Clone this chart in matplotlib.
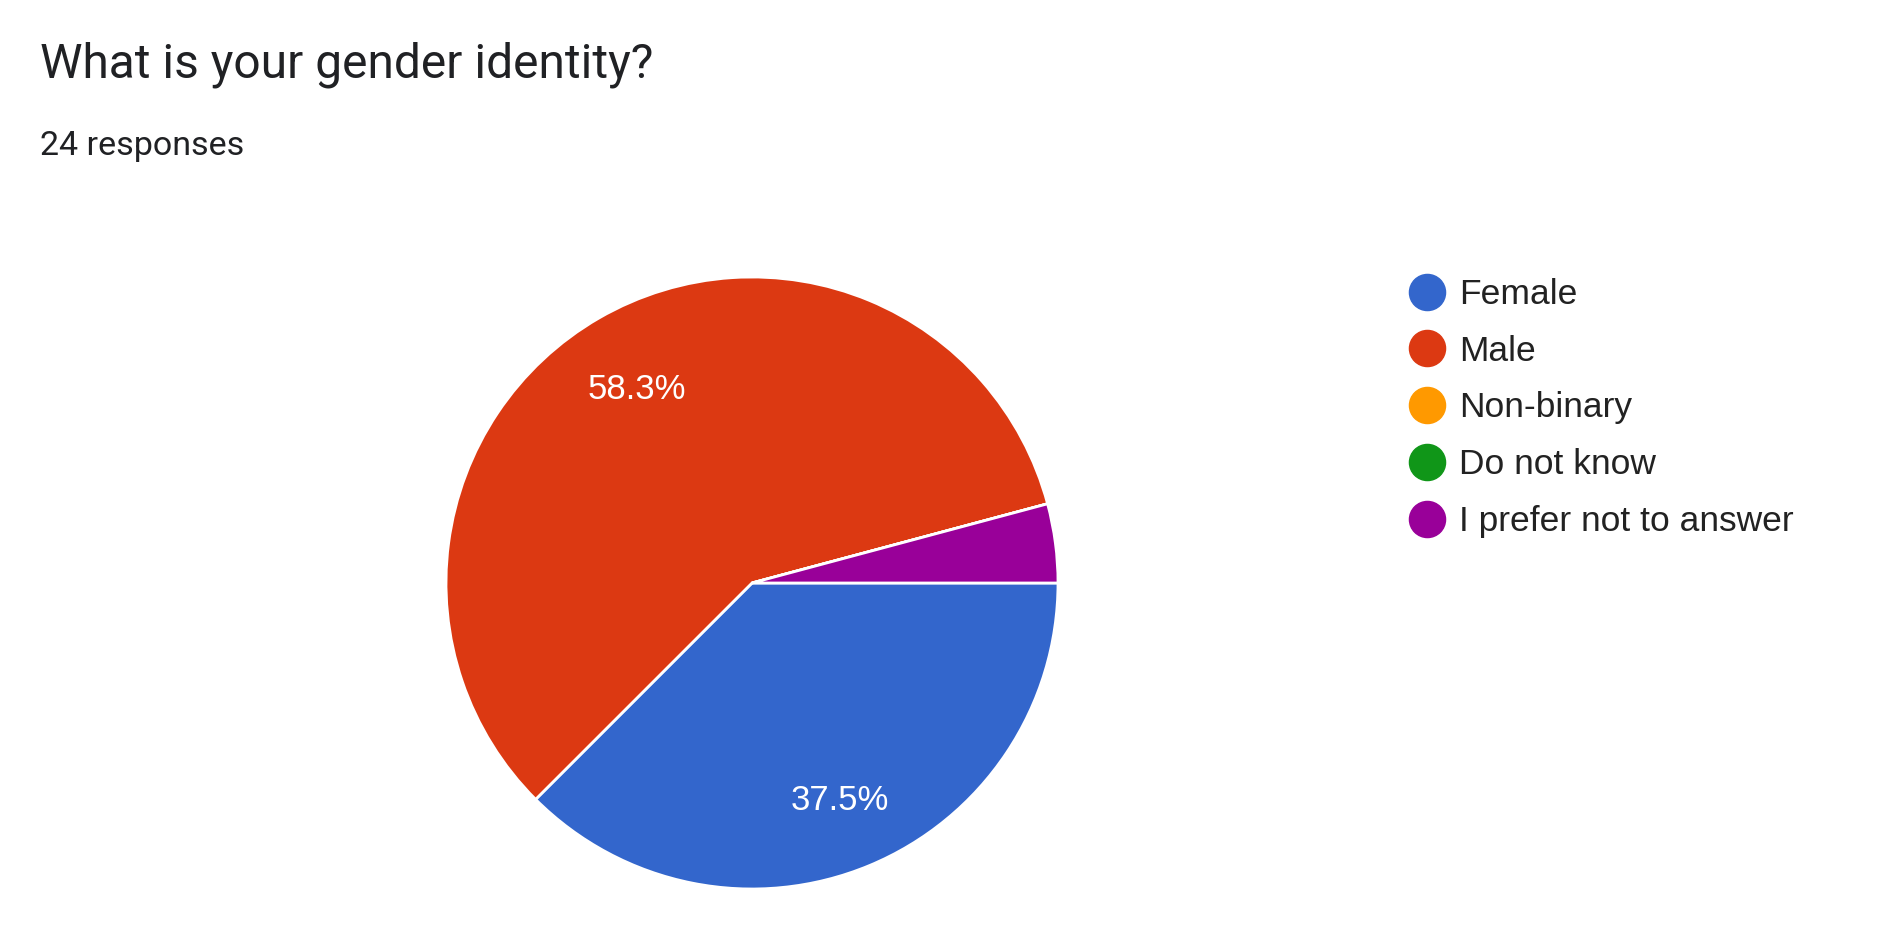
import matplotlib
matplotlib.use("Agg")
import matplotlib.pyplot as plt
from matplotlib.lines import Line2D
from matplotlib.transforms import offset_copy

# Survey data
categories = ["Female", "Male", "Non-binary", "Do not know", "I prefer not to answer"]
counts = [9, 14, 0, 0, 1]
colors = ["#3366cc", "#dc3912", "#ff9900", "#109618", "#990099"]
title = "What is your gender identity?"
subtitle = "24 responses"

W, H = 1880, 932
fig = plt.figure(figsize=(W / 100, H / 100), dpi=100)
fig.patch.set_facecolor("white")

# pie axes: centre (752, 583) px, radius 306 px
cx, cy, r = 752, 583, 306
pad = 1.02
ax = fig.add_axes([(cx - r * pad) / W, (H - cy - r * pad) / H, 2 * r * pad / W, 2 * r * pad / H])


def pct_label(p):
    return f"{p:.1f}%" if p >= 5 else ""


wedges, texts, autotexts = ax.pie(
    counts, colors=colors, startangle=0, counterclock=False,
    autopct=pct_label, pctdistance=0.75, radius=1,
    wedgeprops=dict(edgecolor="white", linewidth=2),
    textprops=dict(color="white", fontsize=25, family="Liberation Sans"),
)
for t in autotexts:
    t.set_transform(offset_copy(t.get_transform(), fig=fig, y=-5, units="dots"))
ax.set_xlim(-pad, pad)
ax.set_ylim(-pad, pad)
ax.set_aspect("equal")
ax.axis("off")

fig.text(40 / W, 1 - 78 / H, title, fontsize=34.5, family="Roboto",
         color="#202124", va="baseline", ha="left")
fig.text(40 / W, 1 - 155 / H, subtitle, fontsize=24.5, family="Roboto",
         color="#202124", va="baseline", ha="left")

handles = [Line2D([], [], marker="o", ls="", ms=26, mfc=c, mec=c) for c in colors]
fig.legend(handles, categories, loc="upper left",
           bbox_to_anchor=(1410 / W, 1 - 278 / H), frameon=False,
           prop=dict(family="Liberation Sans", size=25.5), labelcolor="#222222",
           handlelength=0.95, handletextpad=0.43, labelspacing=0.67,
           borderpad=0, borderaxespad=0)

fig.savefig("out.png", dpi=100)
